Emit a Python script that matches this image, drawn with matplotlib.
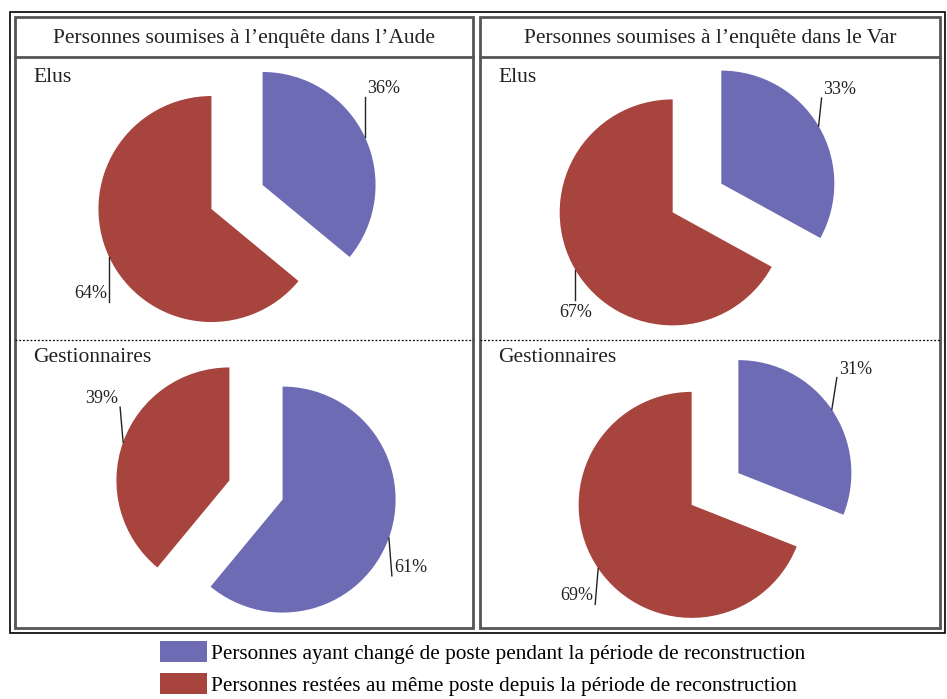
import numpy as np
import matplotlib.pyplot as plt
from matplotlib.patches import Rectangle
from matplotlib.lines import Line2D

plt.rcParams['font.family'] = ['Liberation Serif', 'DejaVu Serif']

# data
regions = ["Personnes soumises à l\u2019enquête dans l\u2019Aude",
           "Personnes soumises à l\u2019enquête dans le Var"]
groups = ["Elus", "Gestionnaires"]
changed = [[36, 61], [33, 31]]   # [region][group]
stayed = [[64, 39], [67, 69]]
legend_labels = ["Personnes ayant changé de poste pendant la période de reconstruction",
                 "Personnes restées au même poste depuis la période de reconstruction"]
col_blue = '#6D6BB3'
col_red = '#A8443E'

W, H = 947, 699
fig = plt.figure(figsize=(W / 100, H / 100), dpi=100)

def fx(x):
    return x / W

def fy(y):
    return 1 - y / H

# frames
fig.add_artist(Rectangle((fx(10), fy(633)), fx(945) - fx(10), fy(12) - fy(633),
                         transform=fig.transFigure, fill=False, ec='black', lw=1.2))
boxes = [(15, 473), (480, 940)]
for (x0, x1), title in zip(boxes, regions):
    fig.add_artist(Rectangle((fx(x0), fy(628)), fx(x1) - fx(x0), fy(17) - fy(628),
                             transform=fig.transFigure, fill=False, ec='#555555', lw=2))
    fig.add_artist(Line2D([fx(x0), fx(x1)], [fy(57), fy(57)], transform=fig.transFigure,
                          color='#555555', lw=2))
    fig.add_artist(Line2D([fx(x0), fx(x1)], [fy(340), fy(340)], transform=fig.transFigure,
                          color='black', lw=0.9, ls=(0, (1.5, 1.5))))
    fig.text(fx((x0 + x1) / 2), fy(38), title, ha='center', va='center', fontsize=15.5, color='#222222')
    fig.text(fx(x0 + 18), fy(78), groups[0], ha='left', va='center', fontsize=15.5, color='#222222')
    fig.text(fx(x0 + 18), fy(357), groups[1], ha='left', va='center', fontsize=15.5, color='#222222')

# pie centres (px) and label leader settings per wedge [blue, red]: ((dx, dy), ha)
centres = [[(237, 197), (256, 490)], [(697, 198), (715, 489)]]
leaders = [
    [[((0, 40), 'left'), ((0, -45), 'right')], [((3, -38), 'left'), ((-3, 35), 'right')]],
    [[((3, 28), 'left'), ((0, -30), 'center')], [((5, 32), 'left'), ((-3, -36), 'right')]],
]
R = 113
half = 170
explode = 0.25

for i in range(2):
    for j in range(2):
        cx, cy = centres[i][j]
        ax = fig.add_axes([fx(cx - half), fy(cy + half), 2 * half / W, 2 * half / H])
        vals = [changed[i][j], stayed[i][j]]
        wedges, _ = ax.pie(vals, colors=[col_blue, col_red], startangle=90, counterclock=False,
                           explode=[explode, explode], radius=1,
                           wedgeprops=dict(linewidth=0))
        lim = half / R
        ax.set_xlim(-lim, lim)
        ax.set_ylim(-lim, lim)
        ax.set_aspect('equal')
        ax.axis('off')
        for k, w in enumerate(wedges):
            mid = np.deg2rad((w.theta1 + w.theta2) / 2)
            ox, oy = w.center
            px, py = ox + np.cos(mid), oy + np.sin(mid)
            (dx, dy), ha = leaders[i][j][k]
            tx, ty = px + dx / R, py + dy / R
            ax.plot([px, tx], [py, ty], color='#222222', lw=1)
            if ha == 'center':
                ax.text(tx, ty - 4 / R, f"{vals[k]}%", ha='center', va='top', fontsize=13, color='#222222')
            else:
                ax.text(tx + (2 if ha == 'left' else -2) / R, ty, f"{vals[k]}%", ha=ha, va='bottom',
                        fontsize=13, color='#222222')
        if i == 0 and j == 0:
            handles = wedges

fig.legend(handles, legend_labels, loc='upper left', bbox_to_anchor=(fx(160), fy(641)),
           frameon=False, fontsize=15.3, handlelength=2.2, handleheight=1.15,
           handletextpad=0.2, labelspacing=0.45, borderpad=0.0, borderaxespad=0.0)

fig.savefig('out.png', dpi=100)
